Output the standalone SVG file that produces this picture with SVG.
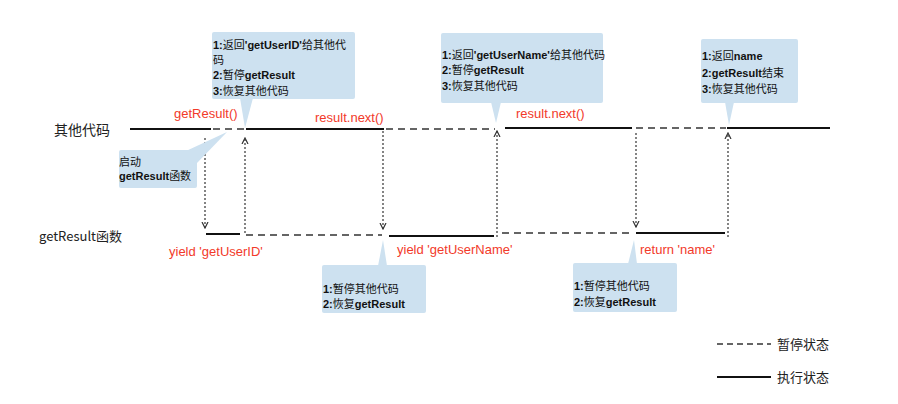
<svg xmlns="http://www.w3.org/2000/svg" width="898" height="404" viewBox="0 0 898 404">
<defs>
<style>
.solid{stroke:#111;stroke-width:2;fill:none}
.dash{stroke:#333;stroke-width:1.4;stroke-dasharray:7,5;fill:none}
.dot{stroke:#333;stroke-width:1.2;stroke-dasharray:2,2;fill:none}
.box{fill:#cde1f0}
.t{font-family:"Liberation Sans","Noto Sans CJK SC",sans-serif;font-size:11px;fill:#111}
.b{font-weight:bold}
.red{font-family:"Liberation Sans","Noto Sans CJK SC",sans-serif;font-size:13px;fill:#f23a2a}
.lbl{font-family:"Noto Sans CJK SC","Liberation Sans",sans-serif;font-size:13px;fill:#222}
</style>
<marker id="ah" viewBox="0 0 6 6" refX="5" refY="3" markerWidth="6" markerHeight="6" orient="auto">
<path d="M0,0.5 L5,3 L0,5.5" fill="none" stroke="#333" stroke-width="1"/>
</marker>
</defs>
<rect width="898" height="404" fill="#fff"/>

<g id="lanes">
<text class="lbl" x="54" y="135" style="font-size:14px">其他代码</text>
<text class="lbl" x="39" y="241">getResult函数</text>
</g>

<g id="connectors">
<line class="solid" x1="130" y1="129" x2="211" y2="129"/>
<line class="dash" x1="213" y1="129" x2="244" y2="129"/>
<line class="solid" x1="246" y1="129" x2="384" y2="129"/>
<line class="dash" x1="386" y1="129" x2="495" y2="129"/>
<line class="solid" x1="505" y1="128" x2="632" y2="128"/>
<line class="dash" x1="636" y1="128" x2="726" y2="128"/>
<line class="solid" x1="727" y1="128" x2="830" y2="128"/>

<line class="solid" x1="206" y1="234" x2="240" y2="234"/>
<line class="dash" x1="246" y1="235" x2="382" y2="235"/>
<line class="solid" x1="389" y1="236" x2="494" y2="236"/>
<line class="dash" x1="502" y1="233" x2="632" y2="233"/>
<line class="solid" x1="636" y1="233" x2="725" y2="233"/>

<line class="dot" x1="205" y1="138" x2="205" y2="228" marker-end="url(#ah)"/>
<line class="dot" x1="245" y1="233" x2="245" y2="138" marker-end="url(#ah)"/>
<line class="dot" x1="383" y1="131" x2="383" y2="229" marker-end="url(#ah)"/>
<line class="dot" x1="497" y1="237" x2="497" y2="131" marker-end="url(#ah)"/>
<line class="dot" x1="636" y1="133" x2="636" y2="227" marker-end="url(#ah)"/>
<line class="dot" x1="728" y1="237" x2="728" y2="133" marker-end="url(#ah)"/>
</g>

<g id="labels">
<text class="red" x="174" y="118">getResult()</text>
<text class="red" x="315" y="122">result.next()</text>
<text class="red" x="516" y="118">result.next()</text>
<text class="red" x="169" y="256">yield 'getUserID'</text>
<text class="red" x="397" y="254">yield 'getUserName'</text>
<text class="red" x="640" y="254">return 'name'</text>
</g>

<g id="callout1">
<rect class="box" x="212" y="32" width="143" height="67" rx="2"/>
<polygon class="box" points="240,98 253,98 245,128"/>
<text class="t" x="213" y="49"><tspan class="b">1:</tspan>返回<tspan class="b">'getUserID'</tspan>给其他代</text>
<text class="t" x="213" y="64">码</text>
<text class="t" x="213" y="79"><tspan class="b">2:</tspan>暂停<tspan class="b">getResult</tspan></text>
<text class="t" x="213" y="95"><tspan class="b">3:</tspan>恢复其他代码</text>
</g>

<g id="callout2">
<rect class="box" x="119" y="150" width="78" height="38" rx="2"/>
<polygon class="box" points="186,151 227,132 197,163"/>
<text class="t" x="119" y="166">启动</text>
<text class="t" x="119" y="180"><tspan class="b">getResult</tspan>函数</text>
</g>

<g id="callout3">
<rect class="box" x="441" y="33" width="162" height="70" rx="2"/>
<polygon class="box" points="491,102 501,102 496,123"/>
<text class="t" x="442" y="59"><tspan class="b">1:</tspan>返回<tspan class="b">'getUserName'</tspan>给其他代码</text>
<text class="t" x="442" y="74"><tspan class="b">2:</tspan>暂停<tspan class="b">getResult</tspan></text>
<text class="t" x="442" y="90"><tspan class="b">3:</tspan>恢复其他代码</text>
</g>

<g id="callout4">
<rect class="box" x="701" y="39" width="97" height="64" rx="2"/>
<polygon class="box" points="725,102 734,102 729,125"/>
<text class="t" x="702" y="60"><tspan class="b">1:</tspan>返回<tspan class="b">name</tspan></text>
<text class="t" x="702" y="77"><tspan class="b">2:getResult</tspan>结束</text>
<text class="t" x="702" y="93"><tspan class="b">3:</tspan>恢复其他代码</text>
</g>

<g id="callout5">
<rect class="box" x="322" y="265" width="104" height="48" rx="2"/>
<polygon class="box" points="378,266 387,266 383,240"/>
<text class="t" x="323" y="293"><tspan class="b">1:</tspan>暂停其他代码</text>
<text class="t" x="323" y="308"><tspan class="b">2:</tspan>恢复<tspan class="b">getResult</tspan></text>
</g>

<g id="callout6">
<rect class="box" x="573" y="263" width="104" height="49" rx="2"/>
<polygon class="box" points="628,264 637,264 634,240"/>
<text class="t" x="574" y="290"><tspan class="b">1:</tspan>暂停其他代码</text>
<text class="t" x="574" y="306"><tspan class="b">2:</tspan>恢复<tspan class="b">getResult</tspan></text>
</g>

<g id="legend">
<line class="dash" x1="717" y1="344" x2="771" y2="344" style="stroke-dasharray:6,4"/>
<text class="lbl" x="777" y="349" style="font-size:13px">暂停状态</text>
<line class="solid" x1="717" y1="377" x2="771" y2="377"/>
<text class="lbl" x="777" y="382" style="font-size:13px">执行状态</text>
</g>
</svg>
